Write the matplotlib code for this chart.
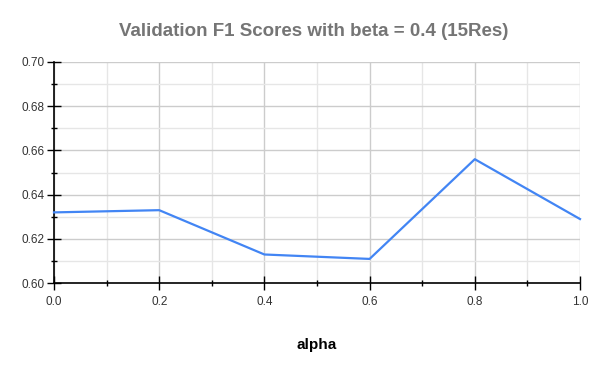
import matplotlib
matplotlib.use("Agg")
import matplotlib.pyplot as plt
from matplotlib.ticker import MultipleLocator, FormatStrFormatter

alpha = [0.0, 0.2, 0.4, 0.6, 0.8, 1.0]
f1 = [0.632, 0.633, 0.613, 0.611, 0.656, 0.629]
title = "Validation F1 Scores with beta = 0.4 (15Res)"

plt.rcParams['font.family'] = ['Liberation Sans', 'DejaVu Sans']

fig = plt.figure(figsize=(5.99, 3.71), dpi=100)
W, H = 599, 371
L, R, T, B = 54, 580, 61.7, 283.3
ax = fig.add_axes([L / W, 1 - B / H, (R - L) / W, (B - T) / H])

ax.plot(alpha, f1, color='#4285f4', lw=1.6, zorder=3, clip_on=False)
ax.set_xlim(0, 1)
ax.set_ylim(0.60, 0.70)

ax.xaxis.set_major_locator(MultipleLocator(0.2))
ax.xaxis.set_minor_locator(MultipleLocator(0.1))
ax.yaxis.set_major_locator(MultipleLocator(0.02))
ax.yaxis.set_minor_locator(MultipleLocator(0.01))
ax.xaxis.set_major_formatter(FormatStrFormatter('%.1f'))
ax.yaxis.set_major_formatter(FormatStrFormatter('%.2f'))

ax.grid(which='major', color='#cccccc', lw=1)
ax.grid(which='minor', color='#e6e6e6', lw=1)
ax.set_axisbelow(True)

for s in ['top', 'right']:
    ax.spines[s].set_visible(False)
for s in ['left', 'bottom']:
    ax.spines[s].set_color('black')
    ax.spines[s].set_linewidth(1.2)

ax.tick_params(which='major', direction='inout', length=10, width=1, color='black',
               labelsize=8.5, labelcolor='#333333', pad=2)
ax.tick_params(which='minor', direction='inout', length=5, width=1, color='black')
ax.tick_params(axis='x', which='major', pad=4)

ax.set_xlabel('alpha', fontsize=11, fontweight='bold', color='black', labelpad=22)
fig.text(314 / W, 1 - 32 / H, title, ha='center', va='center', fontsize=13.5,
         fontweight='bold', color='#757575')

fig.savefig('out.png', dpi=100)
